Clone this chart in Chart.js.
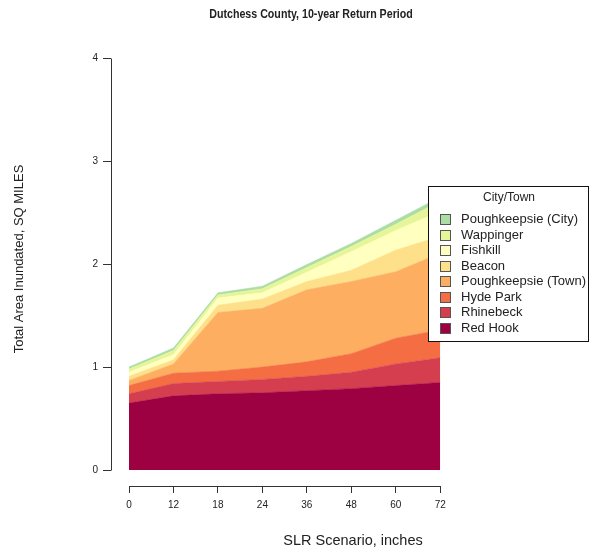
<!DOCTYPE html>
<html>
<head>
<meta charset="utf-8">
<script src="https://cdn.jsdelivr.net/npm/chart.js@4.4.1/dist/chart.umd.min.js"></script>
<style>
  html, body { margin: 0; padding: 0; background: #fff; }
  canvas { display: block; }
</style>
</head>
<body>
<canvas id="chart" width="591" height="558"></canvas>
<script>
// SLR scenarios in inches, plotted one slot apart
const SCENARIOS = ['0', '12', '18', '24', '36', '48', '60', '72'];
const Y_TICKS = [0, 1, 2, 3, 4];

// Inundated area by town (sq miles), stacked from the bottom up
const RED_HOOK      = [0.65, 0.72, 0.74, 0.75, 0.77, 0.79, 0.82, 0.85];
const RHINEBECK     = [0.09, 0.12, 0.12, 0.13, 0.14, 0.16, 0.21, 0.24];
const HYDE_PARK     = [0.08, 0.10, 0.10, 0.12, 0.14, 0.18, 0.25, 0.27];
const POK_TOWN      = [0.05, 0.09, 0.57, 0.57, 0.70, 0.70, 0.645, 0.745];
const BEACON        = [0.04, 0.04, 0.07, 0.09, 0.08, 0.11, 0.21, 0.165];
const FISHKILL      = [0.04, 0.05, 0.07, 0.06, 0.09, 0.18, 0.19, 0.24];
const WAPPINGER     = [0.03, 0.04, 0.03, 0.04, 0.045, 0.05, 0.06, 0.10];
const POK_CITY      = [0.02, 0.025, 0.02, 0.025, 0.03, 0.03, 0.04, 0.04];

const TOWNS = [
  { label: 'Red Hook',            data: RED_HOOK,  color: '#9E0142' },
  { label: 'Rhinebeck',           data: RHINEBECK, color: '#D53E4F' },
  { label: 'Hyde Park',           data: HYDE_PARK, color: '#F46D43' },
  { label: 'Poughkeepsie (Town)', data: POK_TOWN,  color: '#FDAE61' },
  { label: 'Beacon',              data: BEACON,    color: '#FEE08B' },
  { label: 'Fishkill',            data: FISHKILL,  color: '#FFFFBF' },
  { label: 'Wappinger',           data: WAPPINGER, color: '#E6F598' },
  { label: 'Poughkeepsie (City)', data: POK_CITY,  color: '#ABDDA4' }
];

const SANS     = "'Liberation Sans', Arial, sans-serif";
const INK      = '#222';
const AXIS_INK = '#333';

// R-style axes: line runs only between first and last tick, plus titles and boxed legend
const baseGraphics = {
  id: 'baseGraphics',
  afterDraw(chart) {
    const { ctx, scales: { x, y } } = chart;
    ctx.save();
    ctx.strokeStyle = AXIS_INK;
    ctx.lineWidth = 1;

    const xa = Math.round(x.top) + 0.5;
    ctx.beginPath();
    ctx.moveTo(Math.round(x.getPixelForValue(0)) + 0.5, xa);
    ctx.lineTo(Math.round(x.getPixelForValue(SCENARIOS.length - 1)) + 0.5, xa);
    ctx.stroke();

    const ya = Math.round(y.right) + 0.5;
    ctx.beginPath();
    ctx.moveTo(ya, Math.round(y.getPixelForValue(Y_TICKS[0])) + 0.5);
    ctx.lineTo(ya, Math.round(y.getPixelForValue(Y_TICKS[Y_TICKS.length - 1])) + 0.5);
    ctx.stroke();

    // titles
    ctx.fillStyle = INK;
    ctx.textAlign = 'center';
    ctx.textBaseline = 'middle';

    // condensed bold main title
    ctx.save();
    ctx.translate(311, 14);
    ctx.scale(0.82, 1);
    ctx.font = 'bold 13px ' + SANS;
    ctx.fillText('Dutchess County, 10-year Return Period', 0, 0);
    ctx.restore();

    ctx.font = '14.5px ' + SANS;
    ctx.fillText('SLR Scenario, inches', 353, 541);

    ctx.save();
    ctx.translate(19, 259);
    ctx.rotate(-Math.PI / 2);
    ctx.font = '13px ' + SANS;
    ctx.fillText('Total Area Inundated, SQ MILES', 0, 0);
    ctx.restore();

    // legend, top entry is the top layer of the stack
    const lx = 428.5, ly = 186.5, lw = 160, lh = 155;
    ctx.fillStyle = '#fff';
    ctx.fillRect(lx, ly, lw, lh);
    ctx.strokeStyle = '#111';
    ctx.strokeRect(lx, ly, lw, lh);
    ctx.fillStyle = INK;
    ctx.font = '12px ' + SANS;
    ctx.fillText('City/Town', 509, 198);
    ctx.font = '13px ' + SANS;
    ctx.textAlign = 'left';
    const items = chart.data.datasets.slice().reverse();
    items.forEach((ds, i) => {
      const cy = 219 + i * 15.5;
      ctx.fillStyle = ds.backgroundColor;
      ctx.fillRect(440.5, Math.round(cy - 5) + 0.5, 10, 10);
      ctx.strokeStyle = '#555';
      ctx.strokeRect(440.5, Math.round(cy - 5) + 0.5, 10, 10);
      ctx.fillStyle = INK;
      ctx.fillText(ds.label, 461, cy + 0.5);
    });
    ctx.restore();
  }
};

new Chart(document.getElementById('chart'), {
  type: 'line',
  data: {
    datasets: TOWNS.map((t, i) => ({
      label: t.label,
      data: t.data.map((v, k) => ({ x: k, y: v })),
      backgroundColor: t.color,
      borderColor: t.color,
      borderWidth: 0.5,
      fill: i === 0 ? 'origin' : '-1',
      pointRadius: 0,
      tension: 0
    }))
  },
  options: {
    responsive: false,
    animation: false,
    devicePixelRatio: 1,
    layout: { padding: { top: 58, left: 0, right: 133, bottom: 0 } },
    plugins: {
      legend: { display: false },
      tooltip: { enabled: false },
      title: { display: false }
    },
    scales: {
      x: {
        type: 'linear',
        min: -0.405,
        max: 7.4,
        afterBuildTicks(scale) { scale.ticks = SCENARIOS.map((_, i) => ({ value: i })); },
        afterFit(scale) { scale.height = 72; },
        border: { display: false },
        grid: { drawOnChartArea: false, drawTicks: true, tickLength: 7, color: AXIS_INK },
        ticks: {
          color: INK,
          font: { family: SANS, size: 10 },
          padding: 6,
          maxRotation: 0,
          callback: (v) => SCENARIOS[v]
        }
      },
      y: {
        type: 'linear',
        stacked: true,
        min: -0.155,
        max: 4,
        afterBuildTicks(scale) { scale.ticks = Y_TICKS.map(v => ({ value: v })); },
        afterFit(scale) { scale.width = 111; },
        border: { display: false },
        grid: { drawOnChartArea: false, drawTicks: true, tickLength: 8, color: AXIS_INK },
        ticks: {
          color: INK,
          font: { family: SANS, size: 10 },
          padding: 5,
          callback: (v) => String(v)
        }
      }
    }
  },
  plugins: [baseGraphics]
});
</script>
</body>
</html>
